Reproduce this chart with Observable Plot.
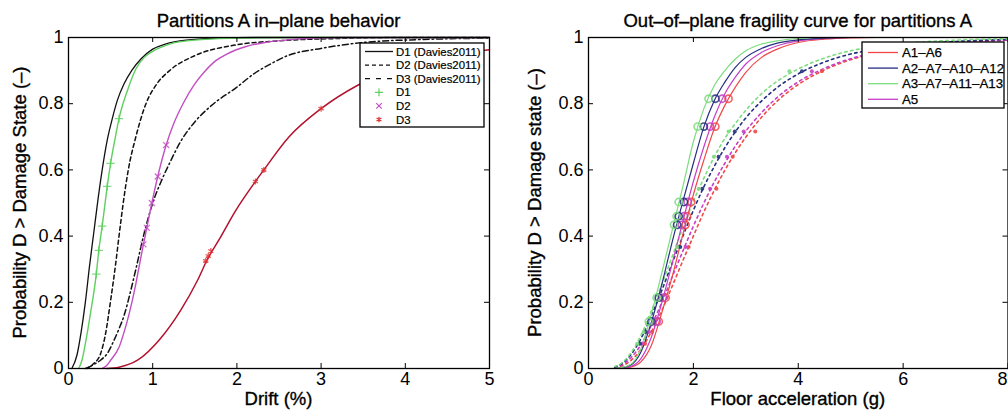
<!DOCTYPE html>
<html><head><meta charset="utf-8">
<script src="https://cdn.jsdelivr.net/npm/d3@7"></script>
<script src="https://cdn.jsdelivr.net/npm/@observablehq/plot@0.6"></script>
<style>
html,body{margin:0;padding:0;overflow:hidden;background:#fff;}
#wrap{position:relative;width:1008px;height:410px;overflow:hidden;background:#fff;}
#left,#right{position:absolute;top:0;}
#left{left:0;width:500px;} #right{left:500px;width:520px;}
#left svg,#right svg{max-width:none !important;}
#overlay{position:absolute;left:0;top:0;pointer-events:none;}
text{paint-order:stroke;}
</style></head>
<body><div id="wrap"><div id="left"></div><div id="right"></div><svg id="overlay" width="1008" height="410"></svg></div>
<script>
// ---------------- Left panel data ----------------
const leftTitle = "Partitions A in–plane behavior";
const leftXLabel = "Drift (%)";
const leftYLabel = "Probability D > Damage State (–)";
const leftXTicks = [0, 1, 2, 3, 4, 5];
const yTicks = [0, 0.2, 0.4, 0.6, 0.8, 1];
const leftLegend = ["D1 (Davies2011)", "D2 (Davies2011)", "D3 (Davies2011)", "D1", "D2", "D3"];

const d1DaviesX = [0.04, 0.10, 0.15, 0.20, 0.25, 0.30, 0.35, 0.40, 0.46, 0.52, 0.58, 0.66, 0.75, 0.86, 1.00, 1.15, 1.40, 1.80, 2.20, 5.00];
const d1DaviesY = [0, 0.04, 0.11, 0.20, 0.31, 0.41, 0.51, 0.60, 0.69, 0.755, 0.81, 0.86, 0.90, 0.935, 0.965, 0.98, 0.992, 0.998, 1, 1];

const d2DaviesX = [0.20, 0.30, 0.38, 0.44, 0.50, 0.56, 0.60, 0.65, 0.71, 0.80, 0.92, 1.05, 1.20, 1.50, 2.00, 2.50, 3.20, 4.00, 5.00];
const d2DaviesY = [0, 0.015, 0.044, 0.105, 0.205, 0.316, 0.40, 0.50, 0.60, 0.70, 0.80, 0.86, 0.90, 0.945, 0.978, 0.99, 0.997, 1, 1];

const d3DaviesX = [0.22, 0.30, 0.38, 0.46, 0.54, 0.60, 0.66, 0.74, 0.80, 0.90, 1.00, 1.10, 1.20, 1.33, 1.50, 1.70, 2.00, 2.20, 2.40, 2.60, 3.00, 3.50, 4.20, 5.00];
const d3DaviesY = [0, 0.012, 0.025, 0.045, 0.085, 0.12, 0.16, 0.236, 0.30, 0.41, 0.50, 0.565, 0.62, 0.685, 0.745, 0.795, 0.85, 0.89, 0.92, 0.945, 0.967, 0.985, 0.994, 0.998];

const d1FitX = [0.12, 0.16, 0.20, 0.26, 0.33, 0.36, 0.40, 0.46, 0.50, 0.55, 0.60, 0.70, 0.80, 0.90, 1.00, 1.20, 1.50, 2.00, 2.50, 5.00];
const d1FitY = [0, 0.025, 0.075, 0.165, 0.285, 0.357, 0.43, 0.55, 0.62, 0.69, 0.755, 0.84, 0.905, 0.94, 0.958, 0.98, 0.992, 0.998, 1, 1];
const d1PtsX = [0.33, 0.36, 0.40, 0.46, 0.50, 0.60];
const d1PtsY = [0.285, 0.357, 0.43, 0.55, 0.62, 0.755];

const d2FitX = [0.40, 0.45, 0.50, 0.60, 0.66, 0.72, 0.80, 0.855, 0.89, 0.93, 0.99, 1.06, 1.16, 1.25, 1.36, 1.50, 1.61, 1.75, 1.88, 2.10, 2.36, 2.70, 3.20, 5.00];
const d2FitY = [0, 0.008, 0.025, 0.064, 0.11, 0.165, 0.256, 0.33, 0.375, 0.425, 0.50, 0.58, 0.675, 0.74, 0.80, 0.86, 0.895, 0.93, 0.95, 0.972, 0.986, 0.995, 1, 1];
const d2PtsX = [0.89, 0.93, 0.99, 1.06, 1.16];
const d2PtsY = [0.375, 0.425, 0.50, 0.58, 0.675];

const d3FitX = [0.45, 0.60, 0.82, 1.09, 1.33, 1.53, 1.65, 1.79, 1.98, 2.22, 2.32, 2.62, 3.00, 3.43, 4.00, 4.50, 5.00];
const d3FitY = [0, 0.004, 0.025, 0.09, 0.175, 0.265, 0.33, 0.39, 0.475, 0.565, 0.60, 0.70, 0.785, 0.855, 0.915, 0.945, 0.963];
const d3PtsX = [1.63, 1.66, 1.69, 2.22, 2.32, 3.00];
const d3PtsY = [0.325, 0.34, 0.355, 0.565, 0.60, 0.785];

// ---------------- Right panel data ----------------
const rightTitle = "Out–of–plane fragility curve for partitions A";
const rightXLabel = "Floor acceleration (g)";
const rightYLabel = "Probability D > Damage state (–)";
const rightXTicks = [0, 2, 4, 6, 8];
const rightLegend = ["A1–A6", "A2–A7–A10–A12", "A3–A7–A11–A13", "A5"];

const accelX = [0.5, 0.6, 0.8, 1.0, 1.2, 1.4, 1.6, 1.8, 2.0, 2.2, 2.4, 2.6, 2.8, 3.0, 3.3, 3.6, 4.0, 4.5, 5.0, 5.5, 6.0, 7.0, 8.0];
// solid curves
const a1SolidY = [0, 0, 0.004, 0.02, 0.07, 0.17, 0.28, 0.405, 0.525, 0.63, 0.725, 0.795, 0.85, 0.895, 0.94, 0.965, 0.985, 0.995, 0.999, 1, 1, 1, 1];
const a2SolidY = [0, 0.002, 0.01, 0.05, 0.14, 0.255, 0.385, 0.505, 0.62, 0.73, 0.81, 0.865, 0.91, 0.94, 0.967, 0.983, 0.993, 0.998, 1, 1, 1, 1, 1];
const a3SolidY = [0, 0.002, 0.012, 0.06, 0.165, 0.29, 0.42, 0.55, 0.685, 0.785, 0.855, 0.90, 0.935, 0.96, 0.98, 0.99, 0.997, 1, 1, 1, 1, 1, 1];
const a5SolidY = [0, 0.001, 0.006, 0.03, 0.095, 0.20, 0.32, 0.445, 0.565, 0.67, 0.76, 0.83, 0.88, 0.92, 0.955, 0.975, 0.99, 0.997, 1, 1, 1, 1, 1];
// dotted curves
const a1DotY = [0.002, 0.0055, 0.023, 0.058, 0.111, 0.176, 0.25, 0.326, 0.40, 0.473, 0.539, 0.599, 0.652, 0.699, 0.759, 0.808, 0.858, 0.902, 0.933, 0.953, 0.967, 0.984, 0.992];
const a2DotY = [0.004, 0.011, 0.04, 0.09, 0.16, 0.237, 0.32, 0.40, 0.478, 0.549, 0.611, 0.667, 0.715, 0.757, 0.808, 0.849, 0.89, 0.926, 0.95, 0.965, 0.976, 0.988, 0.994];
const a3DotY = [0.006, 0.013, 0.045, 0.10, 0.175, 0.255, 0.34, 0.425, 0.505, 0.575, 0.64, 0.695, 0.74, 0.78, 0.83, 0.868, 0.905, 0.938, 0.96, 0.973, 0.982, 0.992, 0.996];
const a5DotY = [0.003, 0.008, 0.031, 0.072, 0.131, 0.20, 0.278, 0.355, 0.43, 0.50, 0.564, 0.62, 0.672, 0.717, 0.773, 0.819, 0.866, 0.907, 0.936, 0.955, 0.968, 0.984, 0.992];

// markers on solid curves (same probability levels)
const solidPtsY = [0.142, 0.214, 0.434, 0.46, 0.503, 0.731, 0.815];
const a1SolidPtsX = [1.34, 1.47, 1.85, 1.88, 1.96, 2.42, 2.67];
const a2SolidPtsX = [1.20, 1.34, 1.69, 1.72, 1.82, 2.20, 2.42];
const a3SolidPtsX = [1.15, 1.30, 1.63, 1.68, 1.72, 2.08, 2.29];
const a5SolidPtsX = [1.30, 1.42, 1.78, 1.82, 1.89, 2.32, 2.55];
// markers on dotted curves
const dotPtsY = [0.075, 0.11, 0.367, 0.543, 0.64, 0.716, 0.898];
const a1DotPtsX = [1.08, 1.21, 1.91, 2.44, 2.75, 3.18, 4.45];
const a2DotPtsX = [0.98, 1.09, 1.75, 2.17, 2.48, 2.79, 4.07];
const a3DotPtsX = [0.93, 1.05, 1.69, 2.10, 2.39, 2.67, 3.83];
const a5DotPtsX = [1.02, 1.15, 1.85, 2.32, 2.64, 2.96, 4.26];

// ---------------- Styles ----------------
const FONT = "'Liberation Sans', Arial, Helvetica, sans-serif";
const C = {black: "#111", green: "#5fcf5f", magenta: "#c24ec2", darkred: "#b3122e",
           rRed: "#f04848", rBlue: "#25307f", rGreen: "#7ddc7d", rMag: "#c63fc6"};
const DASH = "4,3", DASHDOT = "6,3,1.5,3", DOTTED = "2.5,3.5";

const pts = (xs, ys) => xs.map((x, i) => ({x, y: ys[i]}));
const txtOpts = {fill: "#000", stroke: "#000", strokeWidth: 0.35};

function frameMarks(xTicks, plotW, plotH, fontSize, lastAtEdge) {
  const inner = lastAtEdge ? xTicks.slice(0, -1) : xTicks;
  const marks = [
    Plot.tickX(xTicks, {x: d => d, insetTop: plotH - 5, stroke: "#000", strokeWidth: 1}),
    Plot.tickX(xTicks, {x: d => d, insetBottom: plotH - 5, stroke: "#000", strokeWidth: 1}),
    Plot.tickY(yTicks, {y: d => d, insetRight: plotW - 5, stroke: "#000", strokeWidth: 1}),
    Plot.tickY(yTicks, {y: d => d, insetLeft: plotW - 5, stroke: "#000", strokeWidth: 1}),
    Plot.axisX(inner, {tickSize: 0, tickPadding: 4, tickFormat: d => String(d), label: null, fontSize, ...txtOpts}),
    Plot.axisY(yTicks, {tickSize: 0, tickPadding: 5, tickFormat: d => String(d), label: null, fontSize, ...txtOpts}),
    Plot.frame({stroke: "#000", strokeWidth: 1.3})
  ];
  if (lastAtEdge) {
    marks.push(Plot.axisX(xTicks.slice(-1), {tickSize: 0, tickPadding: 4, tickFormat: d => String(d), label: null,
      fontSize, textAnchor: "end", dx: -0.5, ...txtOpts}));
  }
  return marks;
}

const plotStyle = {fontFamily: FONT, fontSize: "18px", color: "#000", background: "transparent", overflow: "visible", maxWidth: "none"};

// ---------------- Left plot ----------------
const LW = 500, LH = 410, LML = 68, LMR = 11, MT = 37, MB = 42;
const leftSeries = [
  {d: pts(d1DaviesX, d1DaviesY), stroke: C.black, dash: null, w: 1.3},
  {d: pts(d2DaviesX, d2DaviesY), stroke: C.black, dash: DASH, w: 1.5},
  {d: pts(d3DaviesX, d3DaviesY), stroke: C.black, dash: DASHDOT, w: 1.5},
  {d: pts(d1FitX, d1FitY), stroke: C.green, dash: null, w: 1.4},
  {d: pts(d2FitX, d2FitY), stroke: C.magenta, dash: null, w: 1.4},
  {d: pts(d3FitX, d3FitY), stroke: C.darkred, dash: null, w: 1.5}
];
const leftPts = [
  {d: pts(d1PtsX, d1PtsY), stroke: C.green, symbol: "plus"},
  {d: pts(d2PtsX, d2PtsY), stroke: C.magenta, symbol: "times"},
  {d: pts(d3PtsX, d3PtsY), stroke: "#e03030", symbol: "asterisk"}
];
const leftPlot = Plot.plot({
  width: LW, height: LH, marginLeft: LML, marginRight: LMR, marginTop: MT, marginBottom: MB,
  style: plotStyle,
  x: {domain: [0, 5]}, y: {domain: [0, 1]},
  marks: [
    ...leftSeries.map(s => Plot.line(s.d, {x: "x", y: "y", stroke: s.stroke, strokeWidth: s.w,
        strokeDasharray: s.dash, curve: "monotone-x"})),
    ...leftPts.map(s => Plot.dot(s.d, {x: "x", y: "y", stroke: s.stroke, symbol: s.symbol, r: 2.8, strokeWidth: 1.3, strokeOpacity: 0.8})),
    ...frameMarks(leftXTicks, LW - LML - LMR, LH - MT - MB, 18, false)
  ]
});
document.getElementById("left").appendChild(leftPlot);

// ---------------- Right plot ----------------
const RW = 520, RML = 88, RMR = 12.5;
const rightColors = [C.rRed, C.rBlue, C.rGreen, C.rMag];
const solidY = [a1SolidY, a2SolidY, a3SolidY, a5SolidY];
const dotY = [a1DotY, a2DotY, a3DotY, a5DotY];
const solidPtsX = [a1SolidPtsX, a2SolidPtsX, a3SolidPtsX, a5SolidPtsX];
const dotPtsX = [a1DotPtsX, a2DotPtsX, a3DotPtsX, a5DotPtsX];
const order = [0, 3, 1, 2];
const rightPlot = Plot.plot({
  width: RW, height: LH, marginLeft: RML, marginRight: RMR, marginTop: MT, marginBottom: MB,
  style: plotStyle,
  x: {domain: [0, 8]}, y: {domain: [0, 1]},
  marks: [
    ...order.map(i => Plot.line(pts(accelX, dotY[i]), {x: "x", y: "y", stroke: rightColors[i], strokeWidth: 1.6,
        strokeDasharray: DOTTED, curve: "monotone-x"})),
    ...order.map(i => Plot.line(pts(accelX, solidY[i]), {x: "x", y: "y", stroke: rightColors[i], strokeWidth: 1.2,
        curve: "monotone-x"})),
    ...order.map(i => Plot.dot(pts(dotPtsX[i], dotPtsY), {x: "x", y: "y", fill: rightColors[i], r: 2, fillOpacity: 0.9})),
    ...order.map(i => Plot.dot(pts(solidPtsX[i], solidPtsY), {x: "x", y: "y", stroke: rightColors[i], r: 3.6, strokeWidth: 1.6, fill: "none", strokeOpacity: 0.85})),
    ...frameMarks(rightXTicks, RW - RML - RMR, LH - MT - MB, 18, true)
  ]
});
document.getElementById("right").appendChild(rightPlot);

// ---------------- Overlay: titles, axis labels, legends ----------------
const ov = d3.select("#overlay").style("font-family", FONT);
function label(x, y, s, size, rot) {
  return ov.append("text").attr("text-anchor", "middle").attr("font-size", size).attr("fill", "#000")
    .attr("stroke", "#000").attr("stroke-width", 0.35)
    .attr("transform", `translate(${x},${y})` + (rot ? ` rotate(${rot})` : "")).text(s);
}
const leftCx = LML + (LW - LML - LMR) / 2;
const rightCx = 500 + RML + (RW - RML - RMR) / 2;
label(leftCx, 27, leftTitle, 18.5);
label(rightCx, 27, rightTitle, 18.5);
label(leftCx, 405, leftXLabel, 18.5);
label(rightCx, 405, rightXLabel, 18.5);
label(26, MT + (LH - MT - MB) / 2, leftYLabel, 18.5, -90);
label(541, MT + (LH - MT - MB) / 2, rightYLabel, 18.5, -90);

// left legend
{
  const g = ov.append("g").attr("transform", "translate(360,43)");
  g.append("rect").attr("width", 124).attr("height", 84).attr("fill", "#fff").attr("stroke", "#000").attr("stroke-width", 1.3);
  const styles = [
    {type: "line", dash: null}, {type: "line", dash: DASH}, {type: "line", dash: "5,6"},
    {type: "dot", color: C.green, sym: "plus"}, {type: "dot", color: C.magenta, sym: "times"}, {type: "dot", color: "#e03030", sym: "asterisk"}
  ];
  leftLegend.forEach((name, i) => {
    const y = 8.5 + i * 13.6;
    const st = styles[i];
    if (st.type === "line") {
      g.append("line").attr("x1", 5).attr("x2", 33).attr("y1", y).attr("y2", y)
        .attr("stroke", "#111").attr("stroke-width", 1.3).attr("stroke-dasharray", st.dash);
    } else {
      const sym = {plus: d3.symbolPlus, times: d3.symbolTimes, asterisk: d3.symbolAsterisk}[st.sym];
      g.append("path").attr("d", d3.symbol(sym, 22)()).attr("transform", `translate(19,${y})`)
        .attr("fill", "none").attr("stroke", st.color).attr("stroke-width", 1.2);
    }
    g.append("text").attr("x", 36).attr("y", y).attr("dy", "0.36em").attr("font-size", 11.4).attr("fill", "#000")
      .attr("stroke", "#000").attr("stroke-width", 0.2).text(name);
  });
}
// right legend
{
  const g = ov.append("g").attr("transform", "translate(862,42)");
  g.append("rect").attr("width", 142).attr("height", 66).attr("fill", "#fff").attr("stroke", "#000").attr("stroke-width", 1.3);
  rightLegend.forEach((name, i) => {
    const y = 10.5 + i * 15.6;
    g.append("line").attr("x1", 6).attr("x2", 36).attr("y1", y).attr("y2", y)
      .attr("stroke", rightColors[i]).attr("stroke-width", 1.3);
    g.append("text").attr("x", 40).attr("y", y).attr("dy", "0.36em").attr("font-size", 13.3).attr("fill", "#000")
      .attr("stroke", "#000").attr("stroke-width", 0.25).text(name);
  });
}
</script></body></html>
